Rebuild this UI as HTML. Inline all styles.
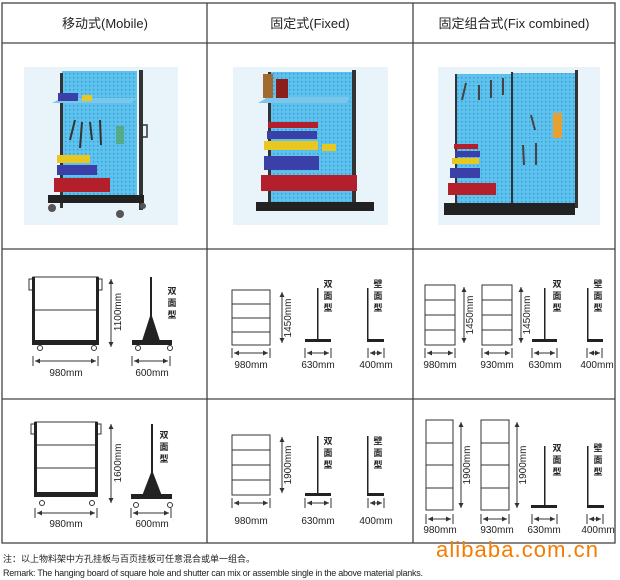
<!DOCTYPE html>
<html><head><meta charset="utf-8"><style>
html,body{margin:0;padding:0;background:#fff;width:620px;height:580px;overflow:hidden}
svg{display:block}
text{font-family:"Liberation Sans","Noto Sans CJK SC",sans-serif;fill:#222}
</style></head><body>
<svg width="620" height="580" viewBox="0 0 620 580" xmlns="http://www.w3.org/2000/svg">
<defs>
<pattern id="holes" width="4" height="4" patternUnits="userSpaceOnUse"><rect width="4" height="4" fill="#5ec2ee"/><rect x="1" y="1" width="1.4" height="1.4" fill="#3b9ad0"/></pattern>
<marker id="a" markerWidth="6" markerHeight="6" refX="5" refY="3" orient="auto-start-reverse"><path d="M0,0.5 L5,3 L0,5.5z" fill="#333"/></marker>
</defs>
<g stroke="#444" stroke-width="1.3" fill="none">
<rect x="2" y="3" width="613" height="540"/>
<line x1="2" y1="43" x2="615" y2="43"/>
<line x1="2" y1="249" x2="615" y2="249"/>
<line x1="2" y1="399" x2="615" y2="399"/>
<line x1="207" y1="3" x2="207" y2="543"/>
<line x1="413" y1="3" x2="413" y2="543"/>
</g>
<text x="105" y="28" font-size="13" text-anchor="middle">移动式(Mobile)</text>
<text x="310" y="28" font-size="13" text-anchor="middle">固定式(Fixed)</text>
<text x="514" y="28" font-size="13" text-anchor="middle">固定组合式(Fix combined)</text>

<rect x="24" y="67" width="154" height="158" fill="#e8f3fa"/>
<rect x="62" y="71" width="75" height="132" fill="url(#holes)"/>
<rect x="60" y="73" width="3" height="135" fill="#333"/>
<rect x="139" y="70" width="4" height="140" fill="#333"/>
<polygon points="52,103 62,98 137,98 132,103" fill="#7cc6ec"/>
<rect x="58" y="93" width="20" height="8" fill="#3b3fa8"/><rect x="82" y="95" width="10" height="6" fill="#e8c820"/>
<rect x="57" y="155" width="33" height="8" fill="#e8c820"/>
<rect x="57" y="165" width="40" height="10" fill="#3b3fa8"/>
<rect x="54" y="178" width="56" height="14" fill="#b3202b"/>
<rect x="48" y="195" width="96" height="8" fill="#222"/>
<circle cx="52" cy="208" r="4" fill="#555"/><circle cx="120" cy="214" r="4" fill="#555"/><circle cx="143" cy="206" r="3" fill="#555"/>
<g stroke="#333" stroke-width="2"><line x1="75" y1="120" x2="70" y2="140"/><line x1="82" y1="122" x2="80" y2="148"/><line x1="90" y1="122" x2="92" y2="140"/><line x1="100" y1="120" x2="101" y2="145"/></g>
<rect x="116" y="126" width="8" height="18" fill="#5a8"/>
<rect x="142" y="125" width="5" height="12" fill="none" stroke="#333" stroke-width="1.5"/>

<rect x="233" y="67" width="155" height="158" fill="#e8f3fa"/>
<rect x="270" y="72" width="83" height="133" fill="url(#holes)"/>
<rect x="268" y="72" width="3" height="135" fill="#333"/>
<rect x="352" y="70" width="4" height="138" fill="#333"/>
<polygon points="258,103 268,97 350,97 346,103" fill="#7cc6ec"/>
<rect x="263" y="74" width="10" height="24" fill="#a06a30"/><rect x="276" y="79" width="12" height="19" fill="#8b1d1d"/>
<rect x="268" y="122" width="50" height="6" fill="#b3202b"/>
<rect x="267" y="131" width="50" height="8" fill="#3b3fa8"/>
<rect x="264" y="141" width="54" height="9" fill="#e8c820"/><rect x="322" y="144" width="14" height="7" fill="#e8c820"/>
<rect x="264" y="156" width="55" height="14" fill="#3b3fa8"/>
<rect x="261" y="175" width="96" height="16" fill="#b3202b"/>
<rect x="256" y="202" width="118" height="9" fill="#222"/>

<rect x="438" y="67" width="162" height="158" fill="#e8f3fa"/>
<rect x="456" y="74" width="56" height="130" fill="url(#holes)"/>
<rect x="513" y="73" width="63" height="131" fill="url(#holes)"/>
<rect x="455" y="74" width="2" height="134" fill="#333"/><rect x="511" y="72" width="2" height="138" fill="#333"/><rect x="575" y="70" width="3" height="138" fill="#333"/>
<rect x="454" y="144" width="24" height="5" fill="#b3202b"/><rect x="455" y="151" width="25" height="6" fill="#3b3fa8"/>
<rect x="452" y="158" width="27" height="6" fill="#e8c820"/><rect x="450" y="168" width="30" height="10" fill="#3b3fa8"/>
<rect x="448" y="183" width="48" height="12" fill="#b3202b"/>
<rect x="444" y="203" width="131" height="12" fill="#222"/>
<g stroke="#444" stroke-width="2"><line x1="466" y1="83" x2="462" y2="100"/><line x1="479" y1="85" x2="479" y2="100"/><line x1="491" y1="80" x2="491" y2="98"/><line x1="503" y1="78" x2="503" y2="95"/><line x1="523" y1="145" x2="524" y2="165"/><line x1="536" y1="143" x2="536" y2="165"/><line x1="531" y1="115" x2="535" y2="130"/></g>
<rect x="553" y="113" width="9" height="25" fill="#e8a030"/>

<g stroke="#333" fill="none" stroke-width="1">
<rect x="33" y="277" width="65" height="66"/><line x1="33" y1="310" x2="98" y2="310"/>
<rect x="29" y="279" width="4" height="11"/><rect x="98" y="279" width="4" height="11"/>
<circle cx="40" cy="348" r="2.5"/><circle cx="94" cy="348" r="2.5"/><circle cx="138" cy="348" r="2.5"/><circle cx="170" cy="348" r="2.5"/>
<line x1="111" y1="279" x2="111" y2="347" marker-start="url(#a)" marker-end="url(#a)"/>
<line x1="33" y1="356" x2="33" y2="366"/><line x1="98" y1="356" x2="98" y2="366"/>
<line x1="35" y1="361" x2="96" y2="361" marker-start="url(#a)" marker-end="url(#a)"/>
<line x1="132" y1="356" x2="132" y2="366"/><line x1="170" y1="356" x2="170" y2="366"/>
<line x1="134" y1="361" x2="168" y2="361" marker-start="url(#a)" marker-end="url(#a)"/>
</g>
<rect x="32" y="340" width="67" height="5" fill="#222"/><rect x="32" y="277" width="3" height="66" fill="#222"/><rect x="96" y="277" width="3" height="66" fill="#222"/>
<rect x="150" y="277" width="2" height="64" fill="#222"/>
<polygon points="142,341 151,313 160,341" fill="#222"/>
<rect x="132" y="340" width="40" height="5" fill="#222"/>
<text x="121" y="312" font-size="10" transform="rotate(-90 121 312)" text-anchor="middle">1100mm</text>
<text x="66" y="376" font-size="10" text-anchor="middle">980mm</text>
<text x="152" y="376" font-size="10" text-anchor="middle">600mm</text>
<text font-size="9" text-anchor="middle" font-weight="bold"><tspan x="172" y="294">双</tspan><tspan x="172" y="306">面</tspan><tspan x="172" y="318">型</tspan></text>

<g stroke="#333" fill="none" stroke-width="1">
<rect x="35" y="422" width="62" height="73"/><line x1="35" y1="445" x2="97" y2="445"/><line x1="35" y1="468" x2="97" y2="468"/>
<rect x="31" y="424" width="4" height="10"/><rect x="97" y="424" width="4" height="10"/>
<circle cx="42" cy="503" r="2.5"/><circle cx="92" cy="503" r="2.5"/><circle cx="136" cy="505" r="2.5"/><circle cx="170" cy="505" r="2.5"/>
<line x1="111" y1="424" x2="111" y2="503" marker-start="url(#a)" marker-end="url(#a)"/>
<line x1="35" y1="508" x2="35" y2="518"/><line x1="97" y1="508" x2="97" y2="518"/>
<line x1="37" y1="513" x2="95" y2="513" marker-start="url(#a)" marker-end="url(#a)"/>
<line x1="131" y1="508" x2="131" y2="518"/><line x1="171" y1="508" x2="171" y2="518"/>
<line x1="133" y1="513" x2="169" y2="513" marker-start="url(#a)" marker-end="url(#a)"/>
</g>
<rect x="34" y="492" width="64" height="5" fill="#222"/><rect x="34" y="422" width="3" height="73" fill="#222"/><rect x="95" y="422" width="3" height="73" fill="#222"/>
<rect x="151" y="424" width="2" height="72" fill="#222"/>
<polygon points="142,496 152,470 162,496" fill="#222"/>
<rect x="131" y="494" width="41" height="5" fill="#222"/>
<text x="121" y="463" font-size="10" transform="rotate(-90 121 463)" text-anchor="middle">1600mm</text>
<text x="66" y="527" font-size="10" text-anchor="middle">980mm</text>
<text x="152" y="527" font-size="10" text-anchor="middle">600mm</text>
<text font-size="9" text-anchor="middle" font-weight="bold"><tspan x="164" y="438">双</tspan><tspan x="164" y="450">面</tspan><tspan x="164" y="462">型</tspan></text>

<g stroke="#333" fill="none" stroke-width="1">
<rect x="232" y="290" width="38" height="55"/><line x1="232" y1="304" x2="270" y2="304"/><line x1="232" y1="318" x2="270" y2="318"/><line x1="232" y1="332" x2="270" y2="332"/>
<line x1="282" y1="292" x2="282" y2="343" marker-start="url(#a)" marker-end="url(#a)"/>
<line x1="232" y1="348" x2="232" y2="358"/><line x1="270" y1="348" x2="270" y2="358"/><line x1="234" y1="353" x2="268" y2="353" marker-start="url(#a)" marker-end="url(#a)"/>
<line x1="305" y1="348" x2="305" y2="358"/><line x1="331" y1="348" x2="331" y2="358"/><line x1="307" y1="353" x2="329" y2="353" marker-start="url(#a)" marker-end="url(#a)"/>
<line x1="368" y1="348" x2="368" y2="358"/><line x1="384" y1="348" x2="384" y2="358"/><line x1="370" y1="353" x2="382" y2="353" marker-start="url(#a)" marker-end="url(#a)"/>
</g>
<rect x="317" y="288" width="1.5" height="52" fill="#222"/><rect x="305" y="339" width="26" height="3" fill="#222"/>
<rect x="367" y="288" width="1.5" height="52" fill="#222"/><rect x="367" y="339" width="17" height="3" fill="#222"/>
<text x="291" y="318" font-size="10" transform="rotate(-90 291 318)" text-anchor="middle">1450mm</text>
<text x="251" y="368" font-size="10" text-anchor="middle">980mm</text>
<text x="318" y="368" font-size="10" text-anchor="middle">630mm</text>
<text x="376" y="368" font-size="10" text-anchor="middle">400mm</text>
<text font-size="9" text-anchor="middle" font-weight="bold"><tspan x="328" y="287">双</tspan><tspan x="328" y="299">面</tspan><tspan x="328" y="311">型</tspan></text>
<text font-size="9" text-anchor="middle" font-weight="bold"><tspan x="378" y="287">壁</tspan><tspan x="378" y="299">面</tspan><tspan x="378" y="311">型</tspan></text>

<g stroke="#333" fill="none" stroke-width="1">
<rect x="232" y="435" width="38" height="60"/><line x1="232" y1="450" x2="270" y2="450"/><line x1="232" y1="465" x2="270" y2="465"/><line x1="232" y1="480" x2="270" y2="480"/>
<line x1="282" y1="437" x2="282" y2="493" marker-start="url(#a)" marker-end="url(#a)"/>
<line x1="232" y1="498" x2="232" y2="508"/><line x1="270" y1="498" x2="270" y2="508"/><line x1="234" y1="503" x2="268" y2="503" marker-start="url(#a)" marker-end="url(#a)"/>
<line x1="305" y1="498" x2="305" y2="508"/><line x1="331" y1="498" x2="331" y2="508"/><line x1="307" y1="503" x2="329" y2="503" marker-start="url(#a)" marker-end="url(#a)"/>
<line x1="368" y1="498" x2="368" y2="508"/><line x1="384" y1="498" x2="384" y2="508"/><line x1="370" y1="503" x2="382" y2="503" marker-start="url(#a)" marker-end="url(#a)"/>
</g>
<rect x="317" y="436" width="1.5" height="58" fill="#222"/><rect x="305" y="493" width="26" height="3" fill="#222"/>
<rect x="367" y="436" width="1.5" height="58" fill="#222"/><rect x="367" y="493" width="17" height="3" fill="#222"/>
<text x="291" y="465" font-size="10" transform="rotate(-90 291 465)" text-anchor="middle">1900mm</text>
<text x="251" y="524" font-size="10" text-anchor="middle">980mm</text>
<text x="318" y="524" font-size="10" text-anchor="middle">630mm</text>
<text x="376" y="524" font-size="10" text-anchor="middle">400mm</text>
<text font-size="9" text-anchor="middle" font-weight="bold"><tspan x="328" y="444">双</tspan><tspan x="328" y="456">面</tspan><tspan x="328" y="468">型</tspan></text>
<text font-size="9" text-anchor="middle" font-weight="bold"><tspan x="378" y="444">壁</tspan><tspan x="378" y="456">面</tspan><tspan x="378" y="468">型</tspan></text>

<g stroke="#333" fill="none" stroke-width="1">
<rect x="425" y="285" width="30" height="60"/><line x1="425" y1="300" x2="455" y2="300"/><line x1="425" y1="315" x2="455" y2="315"/><line x1="425" y1="330" x2="455" y2="330"/>
<rect x="482" y="285" width="30" height="60"/><line x1="482" y1="300" x2="512" y2="300"/><line x1="482" y1="315" x2="512" y2="315"/><line x1="482" y1="330" x2="512" y2="330"/>
<line x1="464" y1="287" x2="464" y2="343" marker-start="url(#a)" marker-end="url(#a)"/>
<line x1="521" y1="287" x2="521" y2="343" marker-start="url(#a)" marker-end="url(#a)"/>
<line x1="425" y1="348" x2="425" y2="358"/><line x1="455" y1="348" x2="455" y2="358"/><line x1="427" y1="353" x2="453" y2="353" marker-start="url(#a)" marker-end="url(#a)"/>
<line x1="482" y1="348" x2="482" y2="358"/><line x1="512" y1="348" x2="512" y2="358"/><line x1="484" y1="353" x2="510" y2="353" marker-start="url(#a)" marker-end="url(#a)"/>
<line x1="532" y1="348" x2="532" y2="358"/><line x1="557" y1="348" x2="557" y2="358"/><line x1="534" y1="353" x2="555" y2="353" marker-start="url(#a)" marker-end="url(#a)"/>
<line x1="587" y1="348" x2="587" y2="358"/><line x1="602" y1="348" x2="602" y2="358"/><line x1="589" y1="353" x2="600" y2="353" marker-start="url(#a)" marker-end="url(#a)"/>
</g>
<rect x="544" y="288" width="1.5" height="52" fill="#222"/><rect x="532" y="339" width="25" height="3" fill="#222"/>
<rect x="587" y="288" width="1.5" height="52" fill="#222"/><rect x="587" y="339" width="16" height="3" fill="#222"/>
<text x="473" y="315" font-size="10" transform="rotate(-90 473 315)" text-anchor="middle">1450mm</text>
<text x="530" y="315" font-size="10" transform="rotate(-90 530 315)" text-anchor="middle">1450mm</text>
<text x="440" y="368" font-size="10" text-anchor="middle">980mm</text>
<text x="497" y="368" font-size="10" text-anchor="middle">930mm</text>
<text x="545" y="368" font-size="10" text-anchor="middle">630mm</text>
<text x="597" y="368" font-size="10" text-anchor="middle">400mm</text>
<text font-size="9" text-anchor="middle" font-weight="bold"><tspan x="557" y="287">双</tspan><tspan x="557" y="299">面</tspan><tspan x="557" y="311">型</tspan></text>
<text font-size="9" text-anchor="middle" font-weight="bold"><tspan x="598" y="287">壁</tspan><tspan x="598" y="299">面</tspan><tspan x="598" y="311">型</tspan></text>

<g stroke="#333" fill="none" stroke-width="1">
<rect x="426" y="420" width="27" height="90"/><line x1="426" y1="443" x2="453" y2="443"/><line x1="426" y1="465" x2="453" y2="465"/><line x1="426" y1="488" x2="453" y2="488"/>
<rect x="481" y="420" width="28" height="90"/><line x1="481" y1="443" x2="509" y2="443"/><line x1="481" y1="465" x2="509" y2="465"/><line x1="481" y1="488" x2="509" y2="488"/>
<line x1="461" y1="422" x2="461" y2="508" marker-start="url(#a)" marker-end="url(#a)"/>
<line x1="517" y1="422" x2="517" y2="508" marker-start="url(#a)" marker-end="url(#a)"/>
<line x1="426" y1="514" x2="426" y2="524"/><line x1="453" y1="514" x2="453" y2="524"/><line x1="428" y1="519" x2="451" y2="519" marker-start="url(#a)" marker-end="url(#a)"/>
<line x1="481" y1="514" x2="481" y2="524"/><line x1="509" y1="514" x2="509" y2="524"/><line x1="483" y1="519" x2="507" y2="519" marker-start="url(#a)" marker-end="url(#a)"/>
<line x1="532" y1="514" x2="532" y2="524"/><line x1="557" y1="514" x2="557" y2="524"/><line x1="534" y1="519" x2="555" y2="519" marker-start="url(#a)" marker-end="url(#a)"/>
<line x1="587" y1="514" x2="587" y2="524"/><line x1="603" y1="514" x2="603" y2="524"/><line x1="589" y1="519" x2="601" y2="519" marker-start="url(#a)" marker-end="url(#a)"/>
</g>
<rect x="544" y="446" width="1.5" height="60" fill="#222"/><rect x="531" y="505" width="26" height="3" fill="#222"/>
<rect x="587" y="446" width="1.5" height="60" fill="#222"/><rect x="587" y="505" width="17" height="3" fill="#222"/>
<text x="470" y="465" font-size="10" transform="rotate(-90 470 465)" text-anchor="middle">1900mm</text>
<text x="526" y="465" font-size="10" transform="rotate(-90 526 465)" text-anchor="middle">1900mm</text>
<text x="440" y="533" font-size="10" text-anchor="middle">980mm</text>
<text x="497" y="533" font-size="10" text-anchor="middle">930mm</text>
<text x="544" y="533" font-size="10" text-anchor="middle">630mm</text>
<text x="598" y="533" font-size="10" text-anchor="middle">400mm</text>
<text font-size="9" text-anchor="middle" font-weight="bold"><tspan x="557" y="451">双</tspan><tspan x="557" y="463">面</tspan><tspan x="557" y="475">型</tspan></text>
<text font-size="9" text-anchor="middle" font-weight="bold"><tspan x="598" y="451">壁</tspan><tspan x="598" y="463">面</tspan><tspan x="598" y="475">型</tspan></text>

<text x="517" y="557" font-size="22" text-anchor="middle" style="fill:#f57c00" textLength="162">alibaba.com.cn</text>
<text x="3" y="562" font-size="9">注：以上物料架中方孔挂板与百页挂板可任意混合或单一组合。</text>
<text x="3" y="576" font-size="9" textLength="420">Remark: The hanging board of square hole and shutter can mix or assemble single in the above material planks.</text>
</svg>
</body></html>
